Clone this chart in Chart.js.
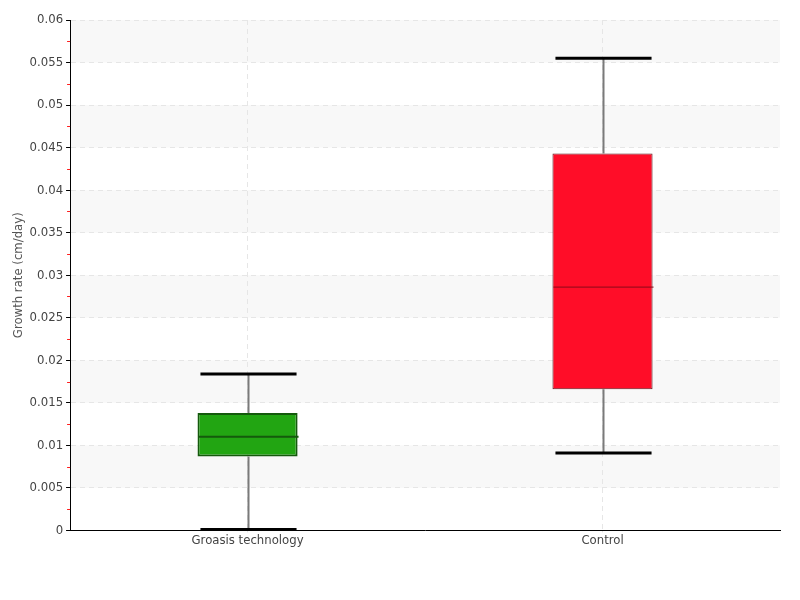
<!DOCTYPE html>
<html>
<head>
<meta charset="utf-8">
<script src="https://cdn.jsdelivr.net/npm/chart.js@4/dist/chart.umd.min.js"></script>
<style>
  html, body { margin: 0; padding: 0; background: #fff; }
  #wrap { width: 800px; height: 600px; }
</style>
</head>
<body>
<div id="wrap"><canvas id="boxChart"></canvas></div>
<script>
// data
const categories = ['Groasis technology', 'Control'];
const whiskerLow = [0.0001, 0.0091];
const quartile1 = [0.0087, 0.0166];
const medians = [0.0110, 0.0286];
const quartile3 = [0.0138, 0.0443];
const whiskerHigh = [0.0184, 0.0555];
const boxColors = ['#22a512', '#ff0d28'];
const boxBorders = ['#145a0c', '#5c1a1e'];
const medianColors = ['#145a0c', '#8a0a18'];

const yMin = 0, yMax = 0.06, yStep = 0.005;

// shaded bands behind the grid, red minor ticks on the y axis
const bandsPlugin = {
    id: 'bands',
    beforeDraw(chart) {
        const { ctx, chartArea, scales: { y } } = chart;
        ctx.save();
        ctx.fillStyle = '#f8f8f8';
        for (let v = yMax; v > yMin + 1e-9; v -= 2 * yStep) {
            const top = y.getPixelForValue(v);
            const bot = y.getPixelForValue(v - yStep);
            ctx.fillRect(chartArea.left, top, chartArea.right - chartArea.left, bot - top);
        }
        ctx.restore();
    },
    afterDraw(chart) {
        const { ctx, chartArea, scales: { y } } = chart;
        ctx.save();
        ctx.strokeStyle = '#ff2020';
        ctx.lineWidth = 1;
        for (let v = yMin + yStep / 2; v < yMax; v += yStep) {
            const py = Math.round(y.getPixelForValue(v)) + 0.5;
            ctx.beginPath();
            ctx.moveTo(chartArea.left - 3, py);
            ctx.lineTo(chartArea.left, py);
            ctx.stroke();
        }
        ctx.restore();
    }
};

// whiskers and medians on top of the floating bars
const boxPlugin = {
    id: 'boxes',
    afterDatasetsDraw(chart) {
        const { ctx, scales: { y } } = chart;
        const meta = chart.getDatasetMeta(0);
        ctx.save();
        meta.data.forEach((bar, i) => {
            const cx = Math.round(bar.x) + 0.5;
            const half = bar.width / 2;
            const yHi = y.getPixelForValue(whiskerHigh[i]);
            const yQ3 = y.getPixelForValue(quartile3[i]);
            const yQ1 = y.getPixelForValue(quartile1[i]);
            const yLo = y.getPixelForValue(whiskerLow[i]);
            const yMed = y.getPixelForValue(medians[i]);

            ctx.strokeStyle = '#7a7a7a';
            ctx.lineWidth = 2;
            ctx.beginPath();
            ctx.moveTo(cx, yHi); ctx.lineTo(cx, yQ3);
            ctx.moveTo(cx, yQ1); ctx.lineTo(cx, yLo);
            ctx.stroke();

            ctx.strokeStyle = '#000';
            ctx.lineWidth = 3;
            ctx.beginPath();
            ctx.moveTo(cx - half + 2, yHi); ctx.lineTo(cx + half - 2, yHi);
            ctx.moveTo(cx - half + 2, yLo); ctx.lineTo(cx + half - 2, yLo);
            ctx.stroke();

            ctx.strokeStyle = medianColors[i];
            ctx.lineWidth = i === 0 ? 2 : 1;
            ctx.beginPath();
            ctx.moveTo(cx - half, yMed); ctx.lineTo(cx + half, yMed);
            ctx.stroke();
        });
        ctx.restore();
    }
};

const ctx = document.getElementById('boxChart').getContext('2d');
new Chart(ctx, {
    type: 'bar',
    data: {
        labels: categories,
        datasets: [{
            label: 'Growth rate',
            data: quartile1.map((q, i) => [q, quartile3[i]]),
            backgroundColor: boxColors,
            borderColor: boxBorders,
            borderWidth: [2, 1],
            borderSkipped: false,
            categoryPercentage: 1,
            barPercentage: 0.282
        }]
    },
    options: {
        responsive: true,
        maintainAspectRatio: false,
        animation: false,
        layout: { padding: { top: 20, right: 20, bottom: 52, left: 11 } },
        plugins: {
            legend: { display: false },
            tooltip: { enabled: false }
        },
        scales: {
            x: {
                grid: {
                    offset: false,
                    color: '#e6e6e6',
                    tickLength: 2
                },
                border: { display: true, color: '#000', width: 1, dash: [5, 4] },
                ticks: {
                    color: '#444',
                    padding: 0,
                    font: { family: 'DejaVu Sans Condensed', size: 13 }
                }
            },
            y: {
                min: yMin,
                max: yMax,
                grid: {
                    color: '#e6e6e6',
                    tickColor: '#000',
                    tickLength: 4
                },
                border: { display: true, color: '#000', width: 1, dash: [5, 4] },
                ticks: {
                    stepSize: yStep,
                    color: '#444',
                    padding: 3,
                    font: { family: 'DejaVu Sans Condensed', size: 13 },
                    callback: v => String(Number(v.toFixed(4)))
                },
                title: {
                    display: true,
                    text: 'Growth rate (cm/day)',
                    color: '#555',
                    padding: { top: 0, bottom: 0 },
                    font: { family: 'DejaVu Sans Condensed', size: 13 }
                }
            }
        }
    },
    plugins: [bandsPlugin, boxPlugin]
});
</script>
</body>
</html>
